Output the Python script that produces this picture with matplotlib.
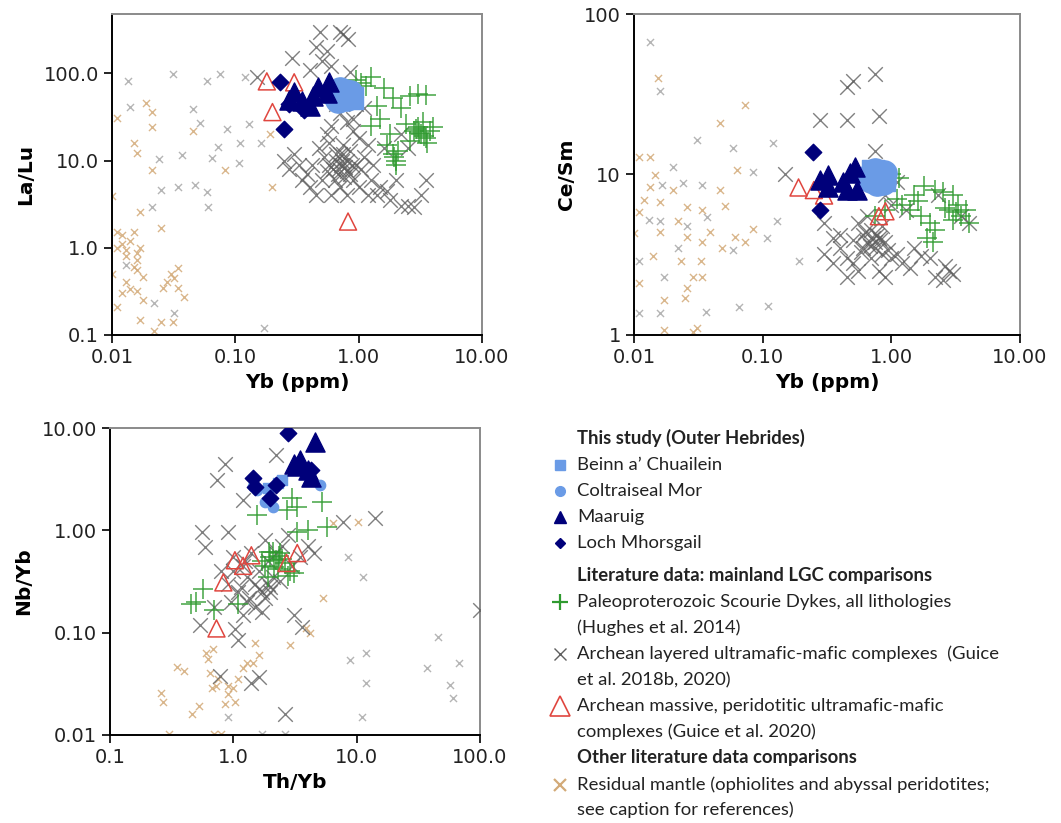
import matplotlib
matplotlib.use("Agg")
import matplotlib.pyplot as plt
from matplotlib.lines import Line2D
from matplotlib.ticker import FixedLocator, FixedFormatter, NullLocator

# ---------------- colours / styles ----------------
C_LB = "#6a9be6"
C_NAVY = "#00007a"
C_GREEN = "#2f9a2f"
C_GREY = "#5f5f5f"
C_RED = "#e0463f"
C_TAN = "#d3aa78"
C_LGREY = "#a8a8a8"

# ---------------- Panel 1: La/Lu vs Yb ----------------
p1_beinn_yb = [0.72, 0.88]
p1_beinn_lalu = [60, 52]
p1_colt_yb = [0.63, 0.70, 0.78, 0.85, 0.68, 0.80, 0.74]
p1_colt_lalu = [58, 65, 62, 60, 50, 52, 55]
p1_maaruig_yb = [0.27, 0.30, 0.40, 0.43, 0.47, 0.55, 0.58, 0.35]
p1_maaruig_lalu = [50, 62, 42, 55, 69, 60, 79, 48]
p1_loch_yb = [0.23, 0.25, 0.27, 0.36]
p1_loch_lalu = [79, 23, 45, 38]
p1_massive_yb = [0.18, 0.20, 0.30, 0.82]
p1_massive_lalu = [81, 36, 79, 2.0]
p1_scourie_yb = [0.95, 1.05, 1.15, 1.25, 1.6, 1.9, 2.6, 3.0, 3.5, 2.2, 1.5, 1.8, 1.9, 2.0,
                 2.1, 1.7, 2.8, 3.0, 3.2, 3.5, 3.8, 2.6, 3.3, 4.0, 2.4, 1.4, 3.6, 2.0, 1.25, 0.9,
                 3.1, 3.4, 2.9, 1.95]
p1_scourie_lalu = [85, 78, 72, 90, 68, 52, 55, 58, 57, 40, 30, 20, 12, 10,
                   13, 15, 22, 24, 20, 18, 22, 17, 28, 24, 26, 42, 16, 9, 25, 60,
                   21, 19, 23, 11]
p1_layered_yb = [0.49, 0.70, 0.82, 0.75, 0.50, 0.29, 0.15, 0.85, 0.45, 0.55, 0.60, 0.40,
                 0.25, 0.27, 0.30, 0.35, 0.40, 0.45, 0.50, 0.55, 0.60, 0.65, 0.70, 0.75,
                 0.80, 0.85, 0.90, 0.95, 1.0, 1.1, 1.2, 1.3, 1.4, 1.6, 1.8, 2.0, 2.2, 2.5,
                 2.8, 3.5, 1.2, 1.0, 0.9, 0.8, 0.7, 0.62, 0.72, 0.78, 0.68, 0.58, 0.66,
                 0.74, 0.55, 0.48, 0.42, 0.38, 0.33, 1.05, 1.25, 1.5, 0.85, 0.9, 1.1, 0.95,
                 2.2, 2.5, 3.2, 1.7, 0.6, 0.65, 0.8, 0.7, 0.76, 0.88, 0.52, 0.58,
                 0.69, 0.73, 0.81, 0.64]
p1_layered_lalu = [295, 300, 250, 280, 137, 150, 92, 105, 200, 180, 120, 110,
                   10, 8, 12, 6, 5, 4, 6, 7.5, 4, 10, 5, 12,
                   4, 7, 6, 9, 5, 11, 4, 9, 4, 14, 3.5, 6, 3, 3,
                   2.9, 6, 15, 18, 22, 28, 35, 8, 9, 8.5, 7, 9, 12,
                   15, 20, 14, 9, 7, 9, 8, 6, 5, 13, 30, 40, 45,
                   20, 14, 4, 4.5, 25, 45, 10, 12, 6.5, 9, 11, 16,
                   8, 10, 7.5, 6]
p1_resid_grey_yb = [0.0135, 0.031, 0.059, 0.075, 0.12, 0.014, 0.045, 0.052, 0.085, 0.13,
                    0.024, 0.037, 0.073, 0.11, 0.16, 0.065, 0.108, 0.025, 0.034, 0.047,
                    0.059, 0.060, 0.021, 0.17, 0.013, 0.022, 0.032]
p1_resid_grey_lalu = [81, 98, 81, 98, 90, 41, 39, 27, 23, 26,
                      10.3, 11.7, 14.5, 16, 16, 10.8, 9.5, 4.6, 5.0, 5.3,
                      4.4, 2.9, 2.9, 0.12, 0.64, 0.23, 0.18]
p1_resid_tan_yb = [0.019, 0.021, 0.011, 0.021, 0.045, 0.015, 0.016, 0.083, 0.021, 0.20,
                   0.017, 0.010, 0.025, 0.012, 0.015, 0.011, 0.013, 0.016, 0.016, 0.013,
                   0.014, 0.016, 0.018, 0.011, 0.034, 0.028, 0.034, 0.038, 0.017, 0.025,
                   0.022, 0.031, 0.011, 0.016, 0.018, 0.012, 0.014, 0.030, 0.026, 0.017,
                   0.19, 0.010, 0.013, 0.015, 0.032, 0.012]
p1_resid_tan_lalu = [46, 36, 31, 24, 22, 16, 12.3, 7.9, 7.9, 5.0,
                     2.6, 3.9, 1.7, 1.4, 1.5, 1.0, 0.95, 0.88, 0.56, 0.41,
                     0.34, 0.32, 0.25, 0.21, 0.59, 0.41, 0.35, 0.27, 0.15, 0.14,
                     0.11, 0.14, 1.5, 0.73, 0.46, 1.1, 1.2, 0.5, 0.35, 1.0,
                     20, 0.5, 0.8, 0.6, 0.45, 0.3]

# ---------------- Panel 2: Ce/Sm vs Yb ----------------
p2_beinn_yb = [0.72, 0.88]
p2_beinn_cesm = [10.5, 9.2]
p2_colt_yb = [0.68, 0.75, 0.82, 0.88, 0.78, 0.86, 0.70]
p2_colt_cesm = [9.8, 10.5, 9.5, 10.2, 8.8, 9.0, 9.2]
p2_maaruig_yb = [0.28, 0.32, 0.32, 0.45, 0.48, 0.52, 0.54, 0.42]
p2_maaruig_cesm = [9.2, 9.9, 8.4, 8.0, 10.2, 11.1, 8.0, 9.0]
p2_loch_yb = [0.246, 0.28]
p2_loch_cesm = [13.8, 6.0]
p2_massive_yb = [0.19, 0.25, 0.30, 0.80, 0.90]
p2_massive_cesm = [8.3, 8.0, 7.4, 5.5, 5.9]
p2_scourie_yb = [1.0, 1.15, 0.75, 0.9, 1.2, 1.5, 1.8, 2.2, 2.5, 3.0, 1.7, 2.0, 2.2, 1.9,
                 2.1, 2.8, 3.2, 3.5, 3.0, 3.8, 4.0, 3.3, 2.6, 1.4, 1.6, 1.1]
p2_scourie_cesm = [10, 9.5, 5.5, 6.0, 6.5, 7.5, 8.5, 8.0, 7.8, 7.5, 5.5, 5.0, 4.5, 4.0,
                   3.8, 6.0, 5.8, 5.5, 5.2, 6.0, 5.0, 6.5, 6.2, 6.0, 6.8, 7.0]
p2_layered_yb = [0.45, 0.50, 0.75, 0.28, 0.45, 0.80, 0.75, 0.15, 1.1,
                 0.3, 0.35, 0.4, 0.45, 0.5, 0.55, 0.45, 0.35, 0.3, 0.6, 0.65, 0.7, 0.75,
                 0.8, 0.85, 0.9, 0.7, 0.6, 0.8, 0.9, 1.0, 1.2, 1.4, 1.5, 2.0, 2.2, 2.5,
                 2.8, 3.5, 4.0, 1.0, 0.9, 1.3, 2.3, 0.55, 0.65, 0.72, 0.78, 0.68, 0.62,
                 0.58, 0.82, 0.95, 1.1, 0.5, 0.4, 1.7, 2.6, 3.0, 0.85, 0.75]
p2_layered_cesm = [35, 38, 42, 22, 22, 23, 14, 10, 9,
                   5, 4, 3.5, 3, 2.8, 2.5, 2.3, 2.8, 3.2, 4.2, 3.8, 4.5, 3.5,
                   4.0, 3.2, 3.8, 3.0, 3.5, 2.5, 2.3, 3.0, 2.8, 2.6, 3.5, 3.0, 2.3, 2.2,
                   2.5, 5.5, 5.0, 6.5, 7.5, 6.0, 7.5, 5.0, 5.5, 4.0, 4.2, 3.6, 4.4,
                   3.3, 3.9, 3.4, 3.2, 3.9, 4.2, 3.1, 2.7, 2.4, 4.8, 3.8]
p2_resid_grey_yb = [0.0133, 0.0159, 0.031, 0.059, 0.12, 0.084, 0.024, 0.0165, 0.034, 0.020,
                    0.037, 0.016, 0.13, 0.108, 0.022, 0.011, 0.017, 0.011, 0.016, 0.066,
                    0.11, 0.19, 0.013, 0.026, 0.059, 0.036]
p2_resid_grey_cesm = [67, 33, 16.4, 14.6, 15.7, 10.4, 8.8, 8.6, 8.6, 11.1,
                      5.4, 5.1, 5.1, 4.0, 3.5, 2.9, 2.3, 1.37, 1.37, 1.49,
                      1.51, 2.9, 5.2, 4.8, 3.4, 1.39]
p2_resid_tan_yb = [0.0154, 0.073, 0.047, 0.063, 0.011, 0.0133, 0.0146, 0.0133, 0.020, 0.047,
                   0.051, 0.012, 0.016, 0.026, 0.034, 0.011, 0.016, 0.022, 0.039, 0.026,
                   0.010, 0.084, 0.061, 0.073, 0.034, 0.048, 0.014, 0.023, 0.033, 0.011,
                   0.029, 0.034, 0.026, 0.025, 0.017, 0.017, 0.031, 0.029]
p2_resid_tan_cesm = [40, 27, 21, 10.7, 12.9, 12.9, 9.9, 8.4, 8.0, 8.0,
                     6.4, 6.9, 6.7, 6.3, 6.0, 5.8, 4.4, 5.1, 4.4, 4.1,
                     4.3, 4.6, 4.1, 3.8, 3.8, 3.5, 3.1, 2.9, 2.9, 2.1,
                     2.3, 2.3, 1.97, 1.7, 1.65, 1.07, 1.1, 1.05]

# ---------------- Panel 3: Nb/Yb vs Th/Yb ----------------
p3_beinn_thyb = [2.5, 2.3, 1.9]
p3_beinn_nbyb = [3.1, 2.9, 2.6]
p3_colt_thyb = [1.55, 2.1, 5.0, 1.45, 1.8]
p3_colt_nbyb = [2.5, 1.7, 2.8, 2.7, 1.9]
p3_maaruig_thyb = [4.6, 3.5, 3.1, 4.3, 4.0, 3.3]
p3_maaruig_nbyb = [7.3, 4.9, 4.4, 3.3, 3.9, 4.3]
p3_loch_thyb = [2.78, 1.45, 1.5, 1.98, 2.2, 4.3]
p3_loch_nbyb = [8.9, 3.25, 2.65, 2.07, 2.8, 3.9]
p3_massive_thyb = [0.73, 1.03, 1.4, 3.3, 0.83, 2.7, 1.2]
p3_massive_nbyb = [0.11, 0.51, 0.57, 0.60, 0.31, 0.48, 0.45]
p3_scourie_thyb = [1.55, 3.0, 2.7, 3.3, 5.2, 5.7, 3.3, 2.2, 1.8, 2.0, 2.4, 2.6, 2.9, 3.1,
                   1.9, 2.3, 0.57, 0.45, 1.1, 0.7, 2.5, 0.5, 4.0, 1.7, 2.1,
                   2.15, 2.35, 1.95, 2.8]
p3_scourie_nbyb = [1.42, 2.07, 1.58, 1.7, 1.9, 1.07, 0.96, 0.51, 0.45, 0.55, 0.6, 0.48, 0.4,
                   0.38, 0.35, 0.42, 0.27, 0.19, 0.19, 0.165, 0.52, 0.2, 1.0, 0.5, 0.62,
                   0.44, 0.56, 0.62, 0.36]
p3_layered_thyb = [0.74, 0.86, 2.2, 0.56, 0.9, 0.59, 1.2, 14, 7.8, 100, 2.6, 3.1, 3.6, 1.4,
                   1.6, 0.78, 1.03, 1.1, 0.54, 1.0, 1.2, 1.3, 1.5, 1.7, 1.8, 2.0, 2.2, 2.5,
                   1.1, 1.3, 1.6, 1.9, 0.9, 1.0, 1.4, 1.8, 2.1, 2.8, 3.5, 4.5, 1.2, 1.5,
                   1.7, 0.95, 1.15, 0.8, 1.25, 1.9, 2.4, 3.0, 4.0, 1.35, 0.7, 1.6, 2.0]
p3_layered_nbyb = [3.1, 4.4, 5.4, 0.96, 0.96, 0.69, 2.0, 1.32, 1.2, 0.165, 0.016, 0.15, 0.114,
                   0.032, 0.037, 0.038, 0.108, 0.085, 0.12, 0.55, 0.45, 0.35, 0.3, 0.25, 0.22,
                   0.28, 0.6, 0.7, 0.25, 0.2, 0.4, 0.5, 0.3, 0.4, 0.6, 0.8, 0.35, 0.9, 0.55,
                   0.6, 0.15, 0.18, 0.16, 0.2, 0.28, 0.4, 0.5, 0.3, 0.32, 0.45, 0.7, 0.22,
                   0.18, 0.27, 0.25]
p3_resid_tan_thyb = [0.26, 0.27, 0.35, 0.40, 0.60, 0.62, 0.46, 0.53, 0.67, 1.0, 1.03, 0.9,
                     1.45, 2.9, 3.9, 4.2, 0.7, 0.8, 1.2, 1.3, 1.5, 0.65, 0.75, 0.9, 5.3,
                     6.4, 10.2, 0.3, 0.68, 0.72, 1.6, 0.85, 1.1]
p3_resid_tan_nbyb = [0.026, 0.021, 0.046, 0.042, 0.063, 0.055, 0.016, 0.019, 0.029, 0.029,
                     0.021, 0.025, 0.050, 0.076, 0.11, 0.10, 0.0102, 0.0102, 0.045, 0.05,
                     0.08, 0.04, 0.035, 0.03, 0.22, 1.18, 1.2, 0.0102, 0.07, 0.03, 0.06,
                     0.02, 0.035]
p3_resid_grey_thyb = [8.5, 11.2, 8.8, 12, 12, 11, 37, 46, 57, 60, 67, 2.6, 0.9, 1.7]
p3_resid_grey_nbyb = [0.55, 0.35, 0.054, 0.063, 0.032, 0.015, 0.045, 0.091, 0.031, 0.023,
                      0.05, 0.0102, 0.015, 0.0102]

# ---------------- figure ----------------
plt.rcParams["font.family"] = ["DejaVu Sans"]
fig = plt.figure(figsize=(10.61, 8.23), dpi=100)

W, H = 1061.0, 823.0


def add_axes_px(left, top, right, bottom):
    return fig.add_axes([left / W, 1 - bottom / H, (right - left) / W, (bottom - top) / H])


ax1 = add_axes_px(112, 14, 482, 335)
ax2 = add_axes_px(634, 14, 1020, 335)
ax3 = add_axes_px(110, 428, 480, 735)


def plot_panel(ax, big_lb, data):
    (rg, rt, lay, scr, mas, colt, beinn, maa, loch) = data
    ax.scatter(*rg, marker="x", s=26, color=C_LGREY, linewidths=1.0, alpha=0.85, zorder=2)
    ax.scatter(*rt, marker="x", s=26, color=C_TAN, linewidths=1.0, alpha=0.85, zorder=2)
    ax.scatter(*lay, marker="x", s=110, color=C_GREY, linewidths=1.0, alpha=0.8, zorder=3)
    ax.scatter(*scr, marker="+", s=190, color=C_GREEN, linewidths=1.1, alpha=0.9, zorder=4)
    ax.scatter(*mas, marker="^", s=150, facecolors="none", edgecolors=C_RED,
               linewidths=1.1, zorder=5)
    if big_lb:
        ax.scatter(*colt, marker="o", s=330, color=C_LB, zorder=6)
        ax.scatter(*beinn, marker="s", s=250, color=C_LB, zorder=6)
    else:
        ax.scatter(*colt, marker="o", s=55, color=C_LB, zorder=6)
        ax.scatter(*beinn, marker="s", s=60, color=C_LB, zorder=6)
    ax.scatter(*maa, marker="^", s=190, color=C_NAVY, zorder=7)
    ax.scatter(*loch, marker="D", s=70, color=C_NAVY, zorder=7)


plot_panel(ax1, True, [
    (p1_resid_grey_yb, p1_resid_grey_lalu), (p1_resid_tan_yb, p1_resid_tan_lalu),
    (p1_layered_yb, p1_layered_lalu), (p1_scourie_yb, p1_scourie_lalu),
    (p1_massive_yb, p1_massive_lalu), (p1_colt_yb, p1_colt_lalu),
    (p1_beinn_yb, p1_beinn_lalu), (p1_maaruig_yb, p1_maaruig_lalu),
    (p1_loch_yb, p1_loch_lalu)])
plot_panel(ax2, True, [
    (p2_resid_grey_yb, p2_resid_grey_cesm), (p2_resid_tan_yb, p2_resid_tan_cesm),
    (p2_layered_yb, p2_layered_cesm), (p2_scourie_yb, p2_scourie_cesm),
    (p2_massive_yb, p2_massive_cesm), (p2_colt_yb, p2_colt_cesm),
    (p2_beinn_yb, p2_beinn_cesm), (p2_maaruig_yb, p2_maaruig_cesm),
    (p2_loch_yb, p2_loch_cesm)])
plot_panel(ax3, False, [
    (p3_resid_grey_thyb, p3_resid_grey_nbyb), (p3_resid_tan_thyb, p3_resid_tan_nbyb),
    (p3_layered_thyb, p3_layered_nbyb), (p3_scourie_thyb, p3_scourie_nbyb),
    (p3_massive_thyb, p3_massive_nbyb), (p3_colt_thyb, p3_colt_nbyb),
    (p3_beinn_thyb, p3_beinn_nbyb), (p3_maaruig_thyb, p3_maaruig_nbyb),
    (p3_loch_thyb, p3_loch_nbyb)])

x1_ticks = [0.01, 0.1, 1, 10]
x1_labels = ["0.01", "0.10", "1.00", "10.00"]
y1_ticks = [0.1, 1, 10, 100]
y1_labels = ["0.1", "1.0", "10.0", "100.0"]
y2_ticks = [1, 10, 100]
y2_labels = ["1", "10", "100"]
x3_ticks = [0.1, 1, 10, 100]
x3_labels = ["0.1", "1.0", "10.0", "100.0"]
y3_ticks = [0.01, 0.1, 1, 10]
y3_labels = ["0.01", "0.10", "1.00", "10.00"]


def style(ax, xlim, ylim, xt, xl, yt, yl, xlabel, ylabel):
    ax.set_xscale("log")
    ax.set_yscale("log")
    ax.set_xlim(*xlim)
    ax.set_ylim(*ylim)
    ax.xaxis.set_major_locator(FixedLocator(xt))
    ax.xaxis.set_major_formatter(FixedFormatter(xl))
    ax.yaxis.set_major_locator(FixedLocator(yt))
    ax.yaxis.set_major_formatter(FixedFormatter(yl))
    ax.xaxis.set_minor_locator(NullLocator())
    ax.yaxis.set_minor_locator(NullLocator())
    ax.tick_params(direction="out", length=6, width=1.2, labelsize=14, color="black",
                   labelcolor="#222222")
    for s in ("left", "bottom"):
        ax.spines[s].set_color("black")
        ax.spines[s].set_linewidth(1.4)
    for s in ("top", "right"):
        ax.spines[s].set_color("#8a8a8a")
        ax.spines[s].set_linewidth(1.4)
    ax.set_xlabel(xlabel, fontsize=14.5, fontweight="bold", labelpad=4)
    ax.set_ylabel(ylabel, fontsize=14.5, fontweight="bold", labelpad=6)


style(ax1, (0.01, 10), (0.1, 480), x1_ticks, x1_labels, y1_ticks, y1_labels, "Yb (ppm)", "La/Lu")
style(ax2, (0.01, 10), (1, 100), x1_ticks, x1_labels, y2_ticks, y2_labels, "Yb (ppm)", "Ce/Sm")
style(ax3, (0.1, 100), (0.01, 10), x3_ticks, x3_labels, y3_ticks, y3_labels, "Th/Yb", "Nb/Yb")

# ---------------- legend (figure coords) ----------------
LEG_FONT = ["Lato", "DejaVu Sans"]
mx, tx = 560, 577
legend_rows = [
    (438, "This study (Outer Hebrides)", True, None),
    (465, "Beinn a\u2019 Chuailein", False, dict(marker="s", ms=7, color=C_LB, mec=C_LB)),
    (491, "Coltraiseal Mor", False, dict(marker="o", ms=7, color=C_LB, mec=C_LB)),
    (517, "Maaruig", False, dict(marker="^", ms=9, color=C_NAVY, mec=C_NAVY)),
    (543, "Loch Mhorsgail", False, dict(marker="D", ms=5, color=C_NAVY, mec=C_NAVY)),
    (575, "Literature data: mainland LGC comparisons", True, None),
    (602, "Paleoproterozoic Scourie Dykes, all lithologies", False,
     dict(marker="+", ms=11, color=C_GREEN, mec=C_GREEN, mew=1.6)),
    (628, "(Hughes et al. 2014)", False, None),
    (654, "Archean layered ultramafic-mafic complexes  (Guice", False,
     dict(marker="x", ms=9, color=C_GREY, mec=C_GREY, mew=1.0)),
    (680, "et al. 2018b, 2020)", False, None),
    (706, "Archean massive, peridotitic ultramafic-mafic", False,
     dict(marker="^", ms=14, color="none", mfc="none", mec=C_RED, mew=1.2)),
    (732, "complexes (Guice et al. 2020)", False, None),
    (758, "Other literature data comparisons", True, None),
    (785, "Residual mantle (ophiolites and abyssal peridotites;", False,
     dict(marker="x", ms=9, color=C_TAN, mec=C_TAN, mew=1.6)),
    (810, "see caption for references)", False, None),
]
for ypx, txt, bold, mk in legend_rows:
    fig.text(tx / W, 1 - ypx / H, txt, fontsize=13.3, family=LEG_FONT,
             fontweight="bold" if bold else "normal", va="center", ha="left",
             color="#222222")
    if mk is not None:
        fig.add_artist(Line2D([mx / W], [1 - ypx / H], transform=fig.transFigure,
                              linestyle="none", **mk))

fig.savefig("out.png", dpi=100)
